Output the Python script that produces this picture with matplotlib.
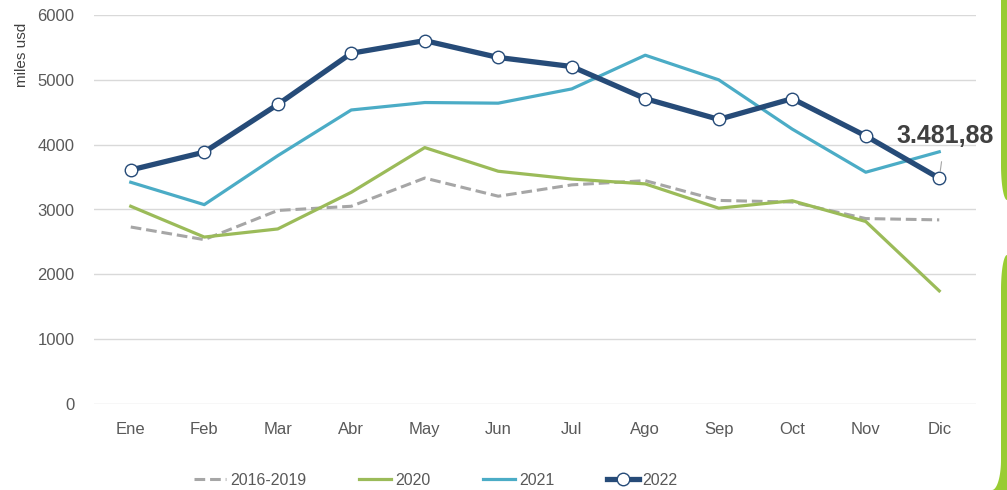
import numpy as np
import matplotlib
matplotlib.use("Agg")
import matplotlib.pyplot as plt
from matplotlib.patches import Polygon

plt.rcParams['font.family'] = ['Liberation Sans', 'DejaVu Sans']

meses = ["Ene", "Feb", "Mar", "Abr", "May", "Jun", "Jul", "Ago", "Sep", "Oct", "Nov", "Dic"]
prom_2016_2019 = [2730, 2535, 2985, 3050, 3485, 3205, 3380, 3445, 3140, 3115, 2860, 2840]
v2020 = [3050, 2575, 2700, 3265, 3955, 3590, 3470, 3395, 3020, 3135, 2815, 1745]
v2021 = [3420, 3075, 3830, 4535, 4650, 4640, 4860, 5380, 5000, 4240, 3575, 3890]
v2022 = [3610, 3885, 4620, 5410, 5605, 5345, 5205, 4710, 4390, 4710, 4135, 3481.88]
ultimo = "3.481,88"

W, H = 1007, 490
fig = plt.figure(figsize=(W / 100, H / 100), dpi=100)
ax = fig.add_axes([94 / W, 1 - 404 / H, (976 - 94) / W, (404 - 15) / H])

x = np.arange(len(meses))
ax.plot(x, prom_2016_2019, color="#a6a6a6", lw=2.2, dashes=(3.5, 1.6), label="2016-2019", zorder=3)
ax.plot(x, v2020, color="#9bbb59", lw=2.3, label="2020", zorder=4)
ax.plot(x, v2021, color="#4bacc6", lw=2.3, label="2021", zorder=5)
ax.plot(x, v2022, color="#264b78", lw=3.8, marker="o", ms=9, mfc="white",
        mec="#264b78", mew=1.0, label="2022", zorder=6)

ax.set_xlim(-0.5, 11.5)
ax.set_ylim(0, 6000)
ax.set_yticks(range(0, 6001, 1000))
ax.set_xticks(x)
ax.set_xticklabels(meses)
ax.grid(axis="y", color="#d9d9d9", lw=1.0)
ax.set_axisbelow(True)
for s in ax.spines.values():
    s.set_visible(False)
ax.tick_params(length=0, labelsize=12, labelcolor="#595959")
ax.tick_params(axis="y", pad=14)
ax.tick_params(axis="x", pad=13)

# etiqueta del último valor
ax.annotate(ultimo, xy=(x[-1], v2022[-1]), xytext=(x[-1] + 0.08, 3950),
            ha="center", va="bottom", fontsize=18, fontweight="bold", color="#404040",
            arrowprops=dict(arrowstyle="-", color="#a6a6a6", lw=0.8, shrinkA=8, shrinkB=5),
            zorder=7)

fig.text(22 / W, 1 - 55 / H, "miles usd", rotation=90, ha="center", va="center",
         fontsize=11, color="#404040")

fig.legend(loc="center", bbox_to_anchor=(436 / W, 1 - 480 / H), ncol=4, frameon=False,
           fontsize=11.5, labelcolor="#595959", handlelength=2.0, handletextpad=0.25,
           columnspacing=3.3)

# borde verde decorativo a la derecha
t = np.linspace(0, np.pi / 2, 20)
top = [(1007, 0), (1001, 0), (1001, 165)]
top += [(1001 + 6 * (1 - np.cos(a)), 165 + 35 * np.sin(a)) for a in t]
bot = [(1007, 255)]
bot += [(1007 - 6 * np.sin(a), 255 + 35 * (1 - np.cos(a))) for a in t]
bot += [(1001, 460)]
bot += [(1001 - 9 * (1 - np.cos(a)), 460 + 30 * np.sin(a)) for a in t]
bot += [(1007, 490)]
for pts in (top, bot):
    fig.patches.append(Polygon([(px / W, 1 - py / H) for px, py in pts], closed=True,
                               transform=fig.transFigure, color="#99cc33", lw=0))

fig.savefig("out.png", dpi=100)
